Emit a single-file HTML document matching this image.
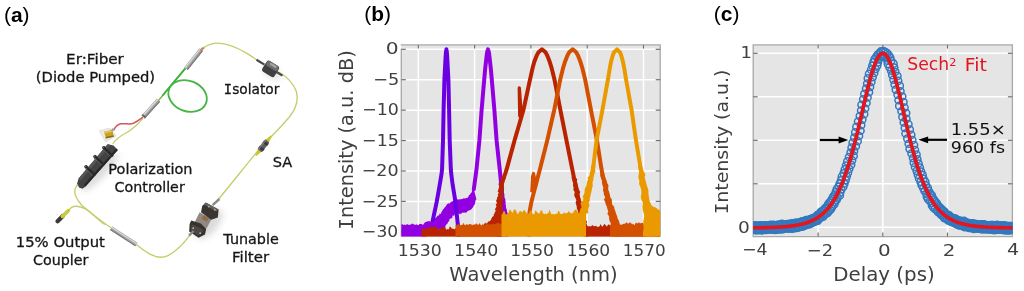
<!DOCTYPE html><html><head><meta charset="utf-8"><style>html,body{margin:0;padding:0;background:#fff;overflow:hidden}svg{display:block}</style></head><body><svg width="1024" height="291" viewBox="0 0 1024 291" font-family="'DejaVu Sans', Verdana, 'Liberation Sans', sans-serif">
<defs><clipPath id="clipb"><rect x="401.3" y="45.0" width="258.90" height="191.60"/></clipPath><filter id="blur3" x="-50%" y="-50%" width="200%" height="200%"><feGaussianBlur stdDeviation="3"/></filter><clipPath id="clipc"><rect x="753.2" y="45.0" width="259.20" height="191.60"/></clipPath></defs>
<rect width="1024" height="291" fill="#fff"/>
<g fill="none" stroke-linecap="round" stroke-linejoin="round">
<g opacity="0.35" filter="url(#blur3)"><ellipse cx="100" cy="172" rx="26" ry="6" transform="rotate(-46 100 172)" fill="#9a9a9a"/><ellipse cx="209" cy="224" rx="18" ry="9" transform="rotate(-50 209 224)" fill="#9a9a9a"/><ellipse cx="272" cy="73" rx="10" ry="5" transform="rotate(27 272 73)" fill="#aaa"/></g>
<path d="M203.6,47.9 C208,44.6 212,43.1 218,43.1 C228,43.3 238,48 246.9,53.4 C252,56.5 257,60 261.5,63.3" stroke="#c6cc6c" stroke-width="1.35"/>
<path d="M279.5,72.5 C287,76.8 293,83 296.2,91 C299,100 295,110 289,117.5 C280,128 270,138 263,144.7 C250,160 232,183 217,201" stroke="#c6cc6c" stroke-width="1.35"/>
<path d="M189.8,235.4 C184,243 177,251 168,255.6 C162,258.3 156,257.5 150,254.2 C145,251.5 140,247.6 136.4,244.6" stroke="#c6cc6c" stroke-width="1.35"/>
<path d="M111,227.6 C103,223 91,213 82,205.5 C76.5,199.5 73.6,193 75.2,188.6 L77.2,185" stroke="#c6cc6c" stroke-width="1.35"/>
<path d="M104.5,224.2 C97,219 90.5,211.5 85.4,208.9 C81,206.6 76,205.2 71.5,207.4 L68.6,210" stroke="#c6cc6c" stroke-width="1.35"/>
<path d="M113,143.5 C116,139 121,135.6 126,133 C131,130.2 135,126.5 138,123.8 C140,121.6 141.5,120 142.6,118.6" stroke="#c6cc6c" stroke-width="1.35"/>
<path d="M142.3,117.7 C140,119.5 137,121.6 132.8,123.6 C129,124.6 125,123.2 120.8,123.8 C118,124.4 115.4,126.8 113.9,129.8" stroke="#d0585a" stroke-width="1.5"/>
<path d="M78,184.5 L76.5,186" stroke="#c6cc6c" stroke-width="1.35"/>
<path d="M158.5,100.5 L186,67.6" stroke="#7cc04a" stroke-width="1.6"/>
<path d="M163,95 L186,67.6" stroke="#3db43f" stroke-width="1.9"/>
<ellipse cx="187.6" cy="96.0" rx="19.8" ry="15.2" transform="rotate(22 187.6 96.0)" stroke="#45b545" stroke-width="1.8"/>
</g>
<rect x="-12.17" y="-2.30" width="24.33" height="4.60" fill="#a3a3a3" transform="translate(193.60 59.10) rotate(-51.34)" />
<g transform="translate(193.60 59.10) rotate(-51.34)"><rect x="-12.17" y="-1.70" width="24.33" height="1.29" fill="#dadada"/><rect x="-12.17" y="1.15" width="24.33" height="1.15" fill="#7a7a7a"/></g>
<line x1="200.6" y1="50.4" x2="203.8" y2="47.6" stroke="#c8845a" stroke-width="2.2"/>
<rect x="-11.33" y="-2.30" width="22.66" height="4.60" fill="#a3a3a3" transform="translate(150.80 108.60) rotate(-47.86)" />
<g transform="translate(150.80 108.60) rotate(-47.86)"><rect x="-11.33" y="-1.70" width="22.66" height="1.29" fill="#dadada"/><rect x="-11.33" y="1.15" width="22.66" height="1.15" fill="#7a7a7a"/></g>
<line x1="143.2" y1="117.0" x2="144.6" y2="115.4" stroke="#6a6a6a" stroke-width="4.4"/>
<rect x="-15.03" y="-2.10" width="30.07" height="4.20" fill="#a3a3a3" transform="translate(123.80 236.40) rotate(33.06)" />
<g transform="translate(123.80 236.40) rotate(33.06)"><rect x="-15.03" y="-1.50" width="30.07" height="1.18" fill="#dadada"/><rect x="-15.03" y="1.05" width="30.07" height="1.05" fill="#7a7a7a"/></g>
<line x1="57.6" y1="221.2" x2="62.6" y2="216.2" stroke="#3a3a3a" stroke-width="4.4" stroke-linecap="round"/>
<line x1="62.4" y1="216.4" x2="68.4" y2="210.6" stroke="#c5cd3c" stroke-width="3.6" stroke-linecap="round"/>
<polygon points="99.3,130.8 109.8,128.0 116.0,136.0 105.6,141.8" fill="#ecebe6" stroke="#cfcfca" stroke-width="0.6"/>
<polygon points="104.2,131.6 112.4,130.0 113.8,136.8 105.8,138.6" fill="#c9a227"/>
<polygon points="104.2,131.6 112.4,130.0 112.8,131.8 104.8,133.4" fill="#e3c45a"/>
<polygon points="105.6,137.0 113.6,135.2 113.8,136.8 105.8,138.6" fill="#8a6c12"/>
<line x1="111.6" y1="131.0" x2="113.6" y2="128.6" stroke="#a0a0a0" stroke-width="2.2"/>
<polygon points="78.6,178.6 107.6,144.2 113.5,145.4 117.8,150.0 85.5,186.6 82.6,188.8 79.0,187.4 77.2,183.2" fill="#424242"/>
<polygon points="78.6,178.6 107.6,144.2 110.5,145.0 80.8,180.4" fill="#555"/>
<polygon points="85.5,186.6 117.8,150.0 116.4,148.6 84.0,184.8" fill="#262626"/>
<line x1="86.00" y1="166.60" x2="94.50" y2="174.60" stroke="#2a2a2a" stroke-width="2.4" stroke-linecap="round"/>
<line x1="84.80" y1="168.20" x2="92.50" y2="175.40" stroke="#5c5c5c" stroke-width="1.0"/>
<circle cx="86.00" cy="166.60" r="1.7" fill="#2c2c2c"/>
<circle cx="85.60" cy="166.20" r="0.7" fill="#777"/>
<line x1="95.00" y1="156.40" x2="103.50" y2="164.40" stroke="#2a2a2a" stroke-width="2.4" stroke-linecap="round"/>
<line x1="93.80" y1="158.00" x2="101.50" y2="165.20" stroke="#5c5c5c" stroke-width="1.0"/>
<circle cx="95.00" cy="156.40" r="1.7" fill="#2c2c2c"/>
<circle cx="94.60" cy="156.00" r="0.7" fill="#777"/>
<line x1="103.80" y1="147.60" x2="112.30" y2="155.60" stroke="#2a2a2a" stroke-width="2.4" stroke-linecap="round"/>
<line x1="102.60" y1="149.20" x2="110.30" y2="156.40" stroke="#5c5c5c" stroke-width="1.0"/>
<circle cx="103.80" cy="147.60" r="1.7" fill="#2c2c2c"/>
<circle cx="103.40" cy="147.20" r="0.7" fill="#777"/>
<line x1="256.5" y1="59.8" x2="264.5" y2="64.6" stroke="#4a4a4a" stroke-width="2.2"/>
<line x1="276.5" y1="72.0" x2="282.5" y2="75.6" stroke="#4a4a4a" stroke-width="2.2"/>
<g transform="translate(270.6 68.9) rotate(32)"><rect x="-7.2" y="-6.4" width="14.4" height="12.8" rx="2.4" fill="#404040"/><rect x="-6.6" y="-6.2" width="13.2" height="5.6" rx="2" fill="#6e6e6e"/><rect x="-3.4" y="-5.6" width="7.5" height="2.4" rx="1" fill="#a5a5a5"/></g>
<g transform="translate(263.5 145.8) rotate(-51.8)"><polygon points="6,-2.1 12.5,-0.7 12.5,0.7 6,2.1" fill="#c9c62a"/><polygon points="-6,-2.1 -12.5,-0.7 -12.5,0.7 -6,2.1" fill="#c9c62a"/><rect x="-6.3" y="-2.7" width="12.6" height="5.4" rx="1" fill="#5c5c5c"/><rect x="-4.6" y="-2.9" width="2.6" height="5.8" fill="#3a3a3a"/><rect x="2.0" y="-2.9" width="2.6" height="5.8" fill="#3a3a3a"/><rect x="-6.3" y="-2.7" width="12.6" height="1.6" fill="#8c8c8c" opacity="0.7"/></g>
<polygon points="199.6,212.2 211.4,219.2 206.4,228.8 194.2,223.2" fill="#8f8983"/>
<polygon points="203.4,215.2 208.6,218.2 206.8,221.8 201.6,218.8" fill="#8d6d45"/>
<polygon points="205.8,202.6 218.6,209.4 217.8,217.4 211.2,219.8 201.0,212.2 202.2,206.0" fill="#3b3531"/>
<polygon points="205.8,202.6 218.6,209.4 216.4,211.2 203.8,204.6" fill="#67615c"/>
<polygon points="191.2,220.4 200.8,223.6 206.2,229.0 205.0,234.6 198.6,237.8 189.2,231.4 189.6,224.0" fill="#38322e"/>
<polygon points="191.8,224.4 199.8,227.4 203.6,231.0 198.4,235.6 190.4,230.6" fill="#4d4743"/>
<circle cx="193.2" cy="228.2" r="0.9" fill="#b8b8b8"/><circle cx="200.2" cy="233.2" r="0.9" fill="#b8b8b8"/>
<circle cx="208.8" cy="206.6" r="0.9" fill="#b0b0b0"/><circle cx="214.8" cy="209.8" r="0.9" fill="#b0b0b0"/>
<line x1="212.6" y1="205.2" x2="219.4" y2="199.0" stroke="#8a8a8a" stroke-width="2.4"/>
<line x1="193.6" y1="231.0" x2="189.0" y2="235.6" stroke="#8a8a8a" stroke-width="2.4"/>
<text id="a_er" x="66.10" y="64.32" font-size="14.40" fill="#161616" textLength="57.78" lengthAdjust="spacingAndGlyphs" stroke="#161616" stroke-width="0.3">Er:Fiber</text>
<text id="a_dp" x="35.77" y="82.15" font-size="14.40" fill="#161616" textLength="119.33" lengthAdjust="spacingAndGlyphs" stroke="#161616" stroke-width="0.3">(Diode Pumped)</text>
<text id="a_iso" x="223.85" y="94.47" font-size="14.40" fill="#161616" textLength="55.54" lengthAdjust="spacingAndGlyphs" stroke="#161616" stroke-width="0.3"><tspan font-family="DejaVu Sans Mono, monospace">I</tspan>solator</text>
<text id="a_pol" x="108.38" y="173.75" font-size="14.40" fill="#161616" textLength="84.16" lengthAdjust="spacingAndGlyphs" stroke="#161616" stroke-width="0.3">Polarization</text>
<text id="a_con" x="114.61" y="191.70" font-size="14.40" fill="#161616" textLength="70.15" lengthAdjust="spacingAndGlyphs" stroke="#161616" stroke-width="0.3">Controller</text>
<text id="a_sa" x="272.83" y="167.25" font-size="14.40" fill="#161616" textLength="19.41" lengthAdjust="spacingAndGlyphs" stroke="#161616" stroke-width="0.3">SA</text>
<text id="a_15" x="15.77" y="246.70" font-size="14.40" fill="#161616" textLength="89.07" lengthAdjust="spacingAndGlyphs" stroke="#161616" stroke-width="0.3">15% Output</text>
<text id="a_cou" x="33.06" y="265.26" font-size="14.40" fill="#161616" textLength="55.42" lengthAdjust="spacingAndGlyphs" stroke="#161616" stroke-width="0.3">Coupler</text>
<text id="a_tun" x="223.34" y="243.87" font-size="14.40" fill="#161616" textLength="55.46" lengthAdjust="spacingAndGlyphs" stroke="#161616" stroke-width="0.3">Tunable</text>
<text id="a_fil" x="231.98" y="261.65" font-size="14.40" fill="#161616" textLength="37.10" lengthAdjust="spacingAndGlyphs" stroke="#161616" stroke-width="0.3">Filter</text>
<rect x="401.3" y="45.0" width="258.90" height="191.60" fill="#e5e5e5"/>
<line x1="418.30" y1="45.0" x2="418.30" y2="236.6" stroke="#fff" stroke-width="1.5"/>
<line x1="474.60" y1="45.0" x2="474.60" y2="236.6" stroke="#fff" stroke-width="1.5"/>
<line x1="530.90" y1="45.0" x2="530.90" y2="236.6" stroke="#fff" stroke-width="1.5"/>
<line x1="587.20" y1="45.0" x2="587.20" y2="236.6" stroke="#fff" stroke-width="1.5"/>
<line x1="643.50" y1="45.0" x2="643.50" y2="236.6" stroke="#fff" stroke-width="1.5"/>
<line x1="401.3" y1="49.30" x2="660.2" y2="49.30" stroke="#fff" stroke-width="1.5"/>
<line x1="401.3" y1="79.72" x2="660.2" y2="79.72" stroke="#fff" stroke-width="1.5"/>
<line x1="401.3" y1="110.14" x2="660.2" y2="110.14" stroke="#fff" stroke-width="1.5"/>
<line x1="401.3" y1="140.56" x2="660.2" y2="140.56" stroke="#fff" stroke-width="1.5"/>
<line x1="401.3" y1="170.98" x2="660.2" y2="170.98" stroke="#fff" stroke-width="1.5"/>
<line x1="401.3" y1="201.40" x2="660.2" y2="201.40" stroke="#fff" stroke-width="1.5"/>
<line x1="401.3" y1="231.82" x2="660.2" y2="231.82" stroke="#fff" stroke-width="1.5"/>
<line x1="400.7" y1="44.9" x2="660.8000000000001" y2="44.9" stroke="#a8a8a8" stroke-width="1.3"/>
<line x1="660.2" y1="44.9" x2="660.2" y2="236.6" stroke="#a8a8a8" stroke-width="1.3"/>
<line x1="401.3" y1="48.70" x2="401.3" y2="236.6" stroke="#a8a8a8" stroke-width="1.3"/>
<line x1="401.3" y1="236.6" x2="660.2" y2="236.6" stroke="#a8a8a8" stroke-width="1.0" opacity="0.6"/>
<line x1="401.3" y1="49.30" x2="405.8" y2="49.30" stroke="#707070" stroke-width="1.2"/>
<line x1="655.7" y1="49.30" x2="660.2" y2="49.30" stroke="#707070" stroke-width="1.2"/>
<line x1="401.3" y1="79.72" x2="405.8" y2="79.72" stroke="#707070" stroke-width="1.2"/>
<line x1="655.7" y1="79.72" x2="660.2" y2="79.72" stroke="#707070" stroke-width="1.2"/>
<line x1="401.3" y1="110.14" x2="405.8" y2="110.14" stroke="#707070" stroke-width="1.2"/>
<line x1="655.7" y1="110.14" x2="660.2" y2="110.14" stroke="#707070" stroke-width="1.2"/>
<line x1="401.3" y1="140.56" x2="405.8" y2="140.56" stroke="#707070" stroke-width="1.2"/>
<line x1="655.7" y1="140.56" x2="660.2" y2="140.56" stroke="#707070" stroke-width="1.2"/>
<line x1="401.3" y1="170.98" x2="405.8" y2="170.98" stroke="#707070" stroke-width="1.2"/>
<line x1="655.7" y1="170.98" x2="660.2" y2="170.98" stroke="#707070" stroke-width="1.2"/>
<line x1="401.3" y1="201.40" x2="405.8" y2="201.40" stroke="#707070" stroke-width="1.2"/>
<line x1="655.7" y1="201.40" x2="660.2" y2="201.40" stroke="#707070" stroke-width="1.2"/>
<line x1="401.3" y1="231.82" x2="405.8" y2="231.82" stroke="#707070" stroke-width="1.2"/>
<line x1="655.7" y1="231.82" x2="660.2" y2="231.82" stroke="#707070" stroke-width="1.2"/>
<line x1="418.30" y1="44.9" x2="418.30" y2="48.6" stroke="#707070" stroke-width="1.2"/>
<line x1="474.60" y1="44.9" x2="474.60" y2="48.6" stroke="#707070" stroke-width="1.2"/>
<line x1="530.90" y1="44.9" x2="530.90" y2="48.6" stroke="#707070" stroke-width="1.2"/>
<line x1="587.20" y1="44.9" x2="587.20" y2="48.6" stroke="#707070" stroke-width="1.2"/>
<line x1="643.50" y1="44.9" x2="643.50" y2="48.6" stroke="#707070" stroke-width="1.2"/>
<g clip-path="url(#clipb)">
<polygon points="401.00,239.60 401.00,224.65 401.70,224.11 402.40,224.27 403.10,224.64 403.80,224.91 404.50,224.38 405.20,224.68 405.90,225.20 406.60,224.19 407.30,224.05 408.00,224.65 408.70,224.81 409.40,224.94 410.10,224.39 410.80,224.39 411.50,224.22 412.20,223.17 412.90,224.16 413.60,224.08 414.30,224.74 415.00,224.47 415.70,225.00 416.40,224.15 417.10,224.85 417.80,225.07 418.50,225.21 419.20,224.00 419.90,224.37 420.60,223.84 421.30,223.99 422.00,224.00 422.70,225.14 425.00,222.30 425.64,222.03 427.17,221.50 428.20,221.27 429.00,221.00 430.25,221.70 430.90,220.26 432.01,219.75 433.20,219.20 434.22,217.84 435.89,218.12 437.67,215.44 438.70,215.60 439.16,215.22 439.50,213.43 440.77,213.91 441.50,212.00 442.38,210.71 442.74,209.75 443.98,208.58 444.20,207.90 445.16,207.01 446.26,205.39 447.02,204.37 448.40,203.20 449.29,203.63 450.65,202.18 451.68,201.43 452.50,201.20 454.19,200.85 455.43,199.47 456.73,198.80 458.00,199.80 459.14,199.26 461.23,199.33 463.92,198.23 465.00,198.60 465.61,198.36 466.75,197.66 467.34,197.96 468.20,197.00 469.18,195.05 469.83,194.78 470.36,193.83 471.50,192.50 471.72,192.03 472.51,190.07 472.75,188.66 473.40,187.50 476.50,199.50 475.40,199.97 475.61,200.55 475.25,202.23 474.50,205.00 473.85,205.45 472.98,207.35 471.41,209.37 471.00,209.50 469.93,210.20 467.92,210.87 466.21,212.63 465.00,212.50 463.59,212.71 462.26,212.50 460.87,214.26 460.00,213.50 459.10,214.27 458.30,212.94 457.35,213.05 456.60,213.50 455.83,213.70 454.96,213.40 454.03,216.32 453.50,215.50 452.55,215.53 452.10,218.38 450.81,217.96 450.50,219.00 449.56,218.72 449.22,221.23 448.27,221.77 447.50,223.50 446.89,224.19 445.96,224.86 444.89,227.94 444.50,228.00 442.90,228.61 441.59,228.40 440.00,229.63 438.70,229.50 436.13,229.38 433.76,230.44 431.48,229.81 428.80,229.50 426.00,236.60 426.00,239.60" fill="#9200e2" />
<polyline points="473.79,189.33 474.35,185.19 474.91,181.10 475.47,177.07 476.01,173.11 476.48,169.21 476.87,165.38 477.26,161.60 477.63,157.89 478.01,154.24 478.37,150.65 478.73,147.13 479.08,143.66 479.42,140.26 479.66,136.93 479.90,133.65 480.13,130.44 480.36,127.29 480.58,124.20 480.80,121.17 481.02,118.21 481.23,115.31 481.43,112.47 481.64,109.69 481.87,106.98 482.10,104.33 482.32,101.74 482.53,99.21 482.74,96.75 482.95,94.35 483.15,92.01 483.34,89.73 483.53,87.51 483.72,85.36 483.90,83.27 484.07,81.24 484.24,79.28 484.41,77.38 484.58,75.53 484.74,73.76 484.89,72.04 485.04,70.39 485.19,68.80 485.33,67.27 485.50,65.80 485.66,64.40 485.82,63.06 485.96,61.78 486.10,60.56 486.24,59.41 486.36,58.32 486.48,57.29 486.59,56.32 486.70,55.41 486.81,54.57 486.91,53.79 487.00,53.07 487.09,52.42 487.25,51.83 487.41,51.30 487.55,50.83 487.67,50.42 487.77,50.08 487.85,49.80 487.92,49.58 487.96,49.42 487.99,49.33 488.00,49.30 488.01,49.33 488.04,49.42 488.08,49.58 488.15,49.80 488.23,50.08 488.33,50.42 488.45,50.83 488.59,51.30 488.75,51.83 488.91,52.42 489.00,53.07 489.09,53.79 489.19,54.57 489.30,55.41 489.41,56.32 489.52,57.29 489.64,58.32 489.76,59.41 489.90,60.56 490.04,61.78 490.18,63.06 490.34,64.40 490.50,65.80 490.67,67.27 490.81,68.80 490.96,70.39 491.11,72.04 491.26,73.76 491.42,75.53 491.59,77.38 491.76,79.28 491.93,81.24 492.10,83.27 492.28,85.36 492.47,87.51 492.66,89.73 492.85,92.01 493.05,94.35 493.26,96.75 493.47,99.21 493.68,101.74 493.90,104.33 494.13,106.98 494.36,109.69 494.57,112.47 494.77,115.31 494.98,118.21 495.20,121.17 495.42,124.20 495.64,127.29 495.87,130.44 496.10,133.65 496.34,136.93 496.58,140.26 496.94,143.66 497.31,147.13 497.69,150.65 498.08,154.24 498.48,157.89 498.88,161.60 499.29,165.38 499.71,169.21 500.10,173.11 500.48,177.07 500.86,181.10 501.25,185.19 501.65,189.33 502.05,193.55 502.46,197.82 502.91,202.16 503.56,206.55 504.22,211.01 504.89,215.54 505.53,220.12 505.82,224.77 506.11,229.48 506.40,234.26 506.70,239.09 507.00,243.99" fill="none" stroke="#9200e2" stroke-width="4.0" stroke-linejoin="round" stroke-linecap="round" />
<polygon points="498.78,183.15 498.47,184.74 499.73,186.32 499.84,187.91 499.39,189.50 499.83,191.08 500.05,192.67 500.17,194.26 500.31,195.85 499.72,197.43 500.81,199.02 499.53,200.61 500.72,202.19 500.72,203.78 501.09,205.37 501.78,206.95 501.76,208.54 500.63,210.13 500.54,211.72 501.98,213.30 501.24,214.89 501.93,216.48 502.54,218.06 501.48,219.65 509.14,219.65 507.72,218.06 509.14,216.48 508.01,214.89 507.73,213.30 506.87,211.72 507.08,210.13 506.25,208.54 505.90,206.95 505.79,205.37 505.34,203.78 505.75,202.19 505.27,200.61 505.35,199.02 504.07,197.43 504.20,195.85 504.40,194.26 503.52,192.67 503.65,191.08 503.89,189.50 503.55,187.91 503.49,186.32 503.39,184.74 502.01,183.15" fill="#9200e2" />
<polyline points="432.83,220.12 433.78,215.54 434.75,211.01 435.70,206.55 436.64,202.16 437.43,197.82 438.18,193.55 438.92,189.33 439.64,185.19 440.34,181.10 441.00,177.07 441.65,173.11 442.06,169.21 442.18,165.38 442.31,161.60 442.43,157.89 442.55,154.24 442.67,150.65 442.78,147.13 442.90,143.66 443.01,140.26 443.07,136.93 443.14,133.65 443.20,130.44 443.26,127.29 443.32,124.20 443.38,121.17 443.44,118.21 443.50,115.31 443.55,112.47 443.61,109.69 443.68,106.98 443.75,104.33 443.82,101.74 443.89,99.21 443.95,96.75 444.02,94.35 444.08,92.01 444.14,89.73 444.20,87.51 444.25,85.36 444.31,83.27 444.36,81.24 444.42,79.28 444.52,77.38 444.62,75.53 444.71,73.76 444.80,72.04 444.89,70.39 444.97,68.80 445.05,67.27 445.12,65.80 445.20,64.40 445.27,63.06 445.33,61.78 445.40,60.56 445.47,59.41 445.53,58.32 445.59,57.29 445.65,56.32 445.70,55.41 445.77,54.57 445.83,53.79 445.89,53.07 445.94,52.42 446.03,51.83 446.10,51.30 446.17,50.83 446.23,50.42 446.28,50.08 446.33,49.80 446.36,49.58 446.38,49.42 446.40,49.33 446.40,49.30 446.40,49.33 446.42,49.42 446.44,49.58 446.47,49.80 446.52,50.08 446.57,50.42 446.63,50.83 446.70,51.30 446.77,51.83 446.86,52.42 446.91,53.07 446.97,53.79 447.03,54.57 447.10,55.41 447.15,56.32 447.21,57.29 447.27,58.32 447.33,59.41 447.40,60.56 447.47,61.78 447.53,63.06 447.60,64.40 447.68,65.80 447.75,67.27 447.83,68.80 447.91,70.39 448.00,72.04 448.09,73.76 448.18,75.53 448.28,77.38 448.38,79.28 448.44,81.24 448.48,83.27 448.53,85.36 448.58,87.51 448.63,89.73 448.68,92.01 448.74,94.35 448.79,96.75 448.85,99.21 448.91,101.74 448.97,104.33 449.03,106.98 449.09,109.69 449.15,112.47 449.20,115.31 449.26,118.21 449.32,121.17 449.38,124.20 449.44,127.29 449.50,130.44 449.56,133.65 449.63,136.93 449.69,140.26 449.82,143.66 449.96,147.13 450.10,150.65 450.24,154.24 450.38,157.89 450.53,161.60 450.68,165.38 450.83,169.21 451.16,173.11 451.65,177.07 452.15,181.10 452.73,185.19 453.42,189.33 454.11,193.55 454.81,197.82 455.48,202.16 455.94,206.55 456.41,211.01 456.88,215.54 457.36,220.12 457.85,224.77 458.35,229.48 458.70,234.26 459.05,239.09 459.40,243.99" fill="none" stroke="#6a00e2" stroke-width="4.0" stroke-linejoin="round" stroke-linecap="round" />
<polygon points="421.60,239.60 421.60,228.96 422.30,228.99 423.00,228.28 423.70,228.77 424.40,229.35 425.10,228.72 425.80,227.99 426.50,227.07 427.20,228.41 427.90,228.69 428.60,227.81 429.30,228.41 430.00,227.30 430.70,225.85 431.40,226.42 432.10,227.16 432.80,227.08 433.50,227.19 434.20,227.04 434.90,226.48 435.60,225.62 436.30,227.36 437.00,228.64 437.70,228.99 438.40,229.40 439.10,229.23 439.80,228.87 440.50,227.72 441.20,227.80 441.90,226.99 442.60,228.22 443.30,226.96 444.00,226.81 444.70,226.91 445.40,227.29 446.10,229.60 446.80,229.70 447.50,228.77 448.20,229.38 448.90,229.09 449.60,226.77 450.30,226.67 451.00,227.20 451.70,228.69 452.40,228.44 453.10,228.86 453.80,228.88 454.50,229.46 455.20,228.73 455.90,227.89 456.60,227.63 457.30,225.57 458.00,225.26 458.70,225.06 459.40,227.78 460.10,228.22 460.80,227.86 461.50,226.87 462.20,227.06 462.90,228.18 463.60,228.01 464.30,227.45 465.00,227.31 465.70,228.25 466.40,227.87 467.10,227.29 467.80,226.78 468.50,226.94 469.20,228.61 469.90,228.59 470.60,228.53 471.30,228.00 472.00,226.96 472.70,227.04 473.40,227.72 474.10,227.74 474.80,228.27 475.50,227.82 476.20,226.74 476.90,225.58 477.60,227.48 478.30,228.22 479.00,229.40 479.70,228.61 480.40,229.29 480.60,226.00 481.44,225.75 482.27,225.55 483.71,225.23 484.00,224.50 484.77,223.11 485.62,222.58 485.83,223.89 487.00,223.00 488.01,222.31 488.09,221.58 489.20,221.58 490.20,220.60 491.33,220.03 490.87,218.50 491.53,218.39 492.00,217.80 492.10,217.07 492.55,216.87 493.67,216.05 493.80,214.60 494.11,214.16 494.66,212.87 495.05,211.57 495.60,211.60 495.64,211.33 496.49,210.23 497.33,208.31 497.50,208.60 497.86,207.81 498.82,206.57 499.61,206.03 499.90,205.00 502.50,203.00 503.50,239.60" fill="#b92300" />
<polyline points="498.80,243.99 498.80,239.09 498.80,234.26 498.80,229.48 498.80,224.77 498.80,220.12 498.80,215.54 498.80,211.01 499.24,206.55 499.72,202.16 500.19,197.82 500.66,193.55 501.12,189.33 501.58,185.19 502.54,181.10 504.00,177.07 505.43,173.11 506.68,169.21 507.73,165.38 508.76,161.60 509.77,157.89 510.77,154.24 511.75,150.65 512.71,147.13 513.65,143.66 514.59,140.26 515.56,136.93 516.52,133.65 517.46,130.44 518.38,127.29 519.29,124.20 520.17,121.17 521.04,118.21 521.89,115.31 522.72,112.47 523.50,109.69 524.09,106.98 524.66,104.33 525.22,101.74 525.77,99.21 526.31,96.75 526.83,94.35 527.33,92.01 527.83,89.73 528.31,87.51 528.78,85.36 529.23,83.27 529.67,81.24 530.10,79.28 530.52,77.38 530.93,75.53 531.32,73.76 531.70,72.04 532.07,70.39 532.42,68.80 532.78,67.27 533.19,65.80 533.58,64.40 533.96,63.06 534.31,61.78 534.76,60.56 535.21,59.41 535.64,58.32 536.05,57.29 536.43,56.32 536.79,55.41 537.23,54.57 537.64,53.79 538.01,53.07 538.36,52.42 539.01,51.83 539.64,51.30 540.19,50.83 540.67,50.42 541.08,50.08 541.41,49.80 541.67,49.58 541.85,49.42 541.96,49.33 542.00,49.30 542.04,49.33 542.15,49.42 542.33,49.58 542.59,49.80 542.92,50.08 543.33,50.42 543.81,50.83 544.36,51.30 544.99,51.83 545.64,52.42 545.99,53.07 546.36,53.79 546.77,54.57 547.21,55.41 547.57,56.32 547.95,57.29 548.36,58.32 548.79,59.41 549.24,60.56 549.70,61.78 550.10,63.06 550.52,64.40 550.95,65.80 551.41,67.27 551.81,68.80 552.20,70.39 552.61,72.04 553.03,73.76 553.47,75.53 553.92,77.38 554.39,79.28 554.80,81.24 555.19,83.27 555.59,85.36 556.01,87.51 556.44,89.73 556.88,92.01 557.34,94.35 557.80,96.75 558.28,99.21 558.77,101.74 559.27,104.33 559.79,106.98 560.31,109.69 560.87,112.47 561.44,115.31 562.02,118.21 562.61,121.17 563.22,124.20 563.84,127.29 564.47,130.44 565.11,133.65 565.77,136.93 566.44,140.26 567.12,143.66 567.82,147.13 568.52,150.65 569.24,154.24 569.98,157.89 570.72,161.60 571.48,165.38 572.25,169.21 573.04,173.11 573.86,177.07 574.70,181.10 575.54,185.19 576.40,189.33 577.27,193.55 578.16,197.82 579.06,202.16 579.98,206.55 580.91,211.01 581.86,215.54 582.82,220.12 583.80,224.77 584.82,229.48 585.87,234.26 586.93,239.09 588.00,243.99" fill="none" stroke="#b92300" stroke-width="4.0" stroke-linejoin="round" stroke-linecap="round" />
<polygon points="501.19,177.06 500.76,178.52 501.05,179.97 500.30,181.43 498.54,182.88 499.88,184.34 499.30,185.79 499.46,187.25 498.38,188.70 498.21,190.16 497.59,191.61 499.21,193.07 497.64,194.52 498.31,195.98 496.98,197.43 497.17,198.89 496.05,200.34 496.48,201.80 496.95,203.25 495.62,204.71 496.57,206.16 495.99,207.62 495.09,209.07 495.15,210.53 502.18,210.53 502.61,209.07 502.34,207.62 502.82,206.16 502.25,204.71 502.62,203.25 503.04,201.80 502.56,200.34 503.81,198.89 502.91,197.43 503.70,195.98 502.89,194.52 503.16,193.07 503.60,191.61 502.94,190.16 504.25,188.70 503.89,187.25 503.38,185.79 503.62,184.34 504.15,182.88 504.36,181.43 504.98,179.97 505.70,178.52 505.97,177.06" fill="#b92300" />
<polygon points="571.32,177.06 572.18,179.18 572.63,181.30 573.46,183.41 572.90,185.53 573.71,187.64 573.24,189.76 574.80,191.88 574.30,193.99 574.31,196.11 575.56,198.23 576.52,200.34 575.58,202.46 576.17,204.57 576.72,206.69 576.91,208.81 578.04,210.92 577.83,213.04 578.25,215.16 579.28,217.27 578.99,219.39 579.96,221.50 579.64,223.62 579.89,225.74 587.36,225.74 586.45,223.62 587.00,221.50 585.44,219.39 585.73,217.27 583.55,215.16 585.14,213.04 583.76,210.92 582.74,208.81 582.44,206.69 582.82,204.57 582.28,202.46 580.73,200.34 580.39,198.23 579.61,196.11 579.37,193.99 580.34,191.88 578.91,189.76 578.46,187.64 577.86,185.53 577.49,183.41 576.71,181.30 577.29,179.18 574.94,177.06" fill="#b92300" />
<polyline points="521.20,114.50 519.30,88.00 519.80,116.00" fill="none" stroke="#b92300" stroke-width="3.4" stroke-linejoin="round" stroke-linecap="round" />
<polygon points="585.00,239.60 585.00,225.55 585.70,224.42 586.40,224.81 587.10,225.59 587.80,226.27 588.50,226.48 589.20,225.99 589.90,226.59 590.60,226.44 591.30,225.95 592.00,225.57 592.70,225.06 593.40,225.95 594.10,226.27 594.80,226.23 595.50,225.75 596.20,225.98 596.90,226.51 597.60,226.96 598.30,226.69 599.00,226.55 599.70,226.15 600.40,224.02 601.10,225.08 601.80,226.25 602.50,226.66 603.20,225.74 603.90,224.50 604.60,223.95 605.30,224.84 606.00,225.61 606.70,226.45 607.40,225.90 608.10,224.30 608.80,224.74 609.50,224.80 610.20,226.10 610.90,226.72 611.60,225.93 612.30,226.98 613.00,226.85 613.70,226.30 614.40,225.59 615.10,225.15 615.80,224.86 616.50,225.69 617.20,226.13 617.90,226.83 618.60,226.30 619.30,226.79 620.00,225.92 620.70,224.66 621.40,224.38 622.10,225.91 622.80,225.75 623.50,227.16 624.20,227.11 624.90,227.06 625.60,226.73 626.30,225.23 627.00,224.35 627.70,224.64 628.40,224.82 629.10,224.46 629.80,223.27 630.50,224.72 631.20,225.98 631.90,226.41 632.60,225.38 633.30,223.68 634.00,225.57 634.70,226.25 635.40,225.59 636.10,226.97 636.80,225.39 637.50,224.33 638.20,223.94 638.90,225.48 639.60,225.84 640.30,226.86 641.00,227.53 641.70,226.48 642.40,225.30 643.10,226.27 643.80,226.27 644.50,226.31 645.20,226.00 645.90,225.53 646.60,226.13 647.30,226.87 648.00,225.11 648.70,224.95 649.40,226.23 650.10,227.02 650.80,227.51 651.50,227.20 652.20,226.83 652.90,227.01 653.60,225.56 654.30,223.81 655.00,224.53 655.70,225.49 656.40,226.78 657.10,226.11 657.80,226.82 658.50,226.70 659.20,226.57 659.90,225.87 660.00,239.60" fill="#b92300" />
<polygon points="455.50,239.60 455.50,225.02 456.20,224.77 456.90,225.28 457.60,224.25 458.30,224.01 459.00,224.59 459.70,225.15 460.40,225.32 461.10,224.68 461.80,224.92 462.50,225.02 463.20,223.05 463.90,223.38 464.60,224.90 465.30,225.22 466.00,224.59 466.70,224.18 467.40,224.27 468.10,225.23 468.80,224.23 469.50,224.07 470.20,224.01 470.90,224.50 471.60,224.48 472.30,225.16 473.00,224.54 473.70,224.81 474.40,224.36 475.10,224.84 475.80,223.48 476.50,223.46 477.20,224.47 477.90,224.71 478.60,224.54 479.30,222.97 480.00,223.97 480.70,224.65 481.40,225.87 482.10,224.64 482.80,223.89 483.50,224.58 484.20,225.69 484.90,224.75 485.60,224.46 486.30,224.49 487.00,223.49 487.70,223.83 488.40,223.62 489.10,224.74 489.80,224.52 490.50,224.16 491.20,224.50 491.90,223.14 492.60,224.16 493.30,223.49 494.00,223.90 494.70,224.39 495.40,224.12 496.10,223.28 496.80,223.79 497.50,222.72 498.20,222.80 498.90,223.04 499.60,223.79 500.30,223.22 501.00,224.71 501.70,223.42 502.40,223.85 503.10,225.21 503.50,239.60" fill="#d35000" />
<polyline points="529.20,243.99 529.20,239.09 529.20,234.26 529.20,229.48 529.20,224.77 529.20,220.12 529.20,215.54 529.68,211.01 530.53,206.55 531.36,202.16 532.44,197.82 533.57,193.55 534.67,189.33 535.76,185.19 536.84,181.10 537.90,177.07 538.94,173.11 539.95,169.21 540.92,165.38 541.87,161.60 542.81,157.89 543.74,154.24 544.65,150.65 545.54,147.13 546.41,143.66 547.27,140.26 548.04,136.93 548.79,133.65 549.53,130.44 550.25,127.29 550.96,124.20 551.66,121.17 552.34,118.21 553.01,115.31 553.66,112.47 554.29,109.69 554.82,106.98 555.35,104.33 555.86,101.74 556.36,99.21 556.84,96.75 557.32,94.35 557.78,92.01 558.23,89.73 558.66,87.51 559.09,85.36 559.50,83.27 559.90,81.24 560.31,79.28 560.78,77.38 561.23,75.53 561.67,73.76 562.09,72.04 562.50,70.39 562.89,68.80 563.29,67.27 563.75,65.80 564.18,64.40 564.60,63.06 565.00,61.78 565.46,60.56 565.91,59.41 566.34,58.32 566.75,57.29 567.13,56.32 567.49,55.41 567.93,54.57 568.34,53.79 568.71,53.07 569.06,52.42 569.71,51.83 570.34,51.30 570.89,50.83 571.37,50.42 571.78,50.08 572.11,49.80 572.37,49.58 572.55,49.42 572.66,49.33 572.70,49.30 572.74,49.33 572.85,49.42 573.03,49.58 573.29,49.80 573.62,50.08 574.03,50.42 574.51,50.83 575.06,51.30 575.69,51.83 576.34,52.42 576.69,53.07 577.06,53.79 577.47,54.57 577.91,55.41 578.27,56.32 578.65,57.29 579.06,58.32 579.49,59.41 579.94,60.56 580.40,61.78 580.80,63.06 581.22,64.40 581.65,65.80 582.11,67.27 582.51,68.80 582.90,70.39 583.31,72.04 583.73,73.76 584.17,75.53 584.62,77.38 585.09,79.28 585.49,81.24 585.88,83.27 586.28,85.36 586.69,87.51 587.11,89.73 587.54,92.01 587.99,94.35 588.45,96.75 588.92,99.21 589.40,101.74 589.89,104.33 590.40,106.98 590.91,109.69 591.46,112.47 592.02,115.31 592.59,118.21 593.18,121.17 593.77,124.20 594.38,127.29 595.00,130.44 595.64,133.65 596.28,136.93 596.94,140.26 597.49,143.66 598.04,147.13 598.59,150.65 599.16,154.24 599.73,157.89 600.32,161.60 600.92,165.38 601.52,169.21 602.28,173.11 603.18,177.07 604.10,181.10 605.02,185.19 605.96,189.33 606.92,193.55 607.89,197.82 608.91,202.16 610.11,206.55 611.33,211.01 612.57,215.54 613.86,220.12 615.38,224.77 616.70,229.48 616.70,234.26 616.70,239.09 616.70,243.99" fill="none" stroke="#d35000" stroke-width="4.0" stroke-linejoin="round" stroke-linecap="round" />
<polygon points="600.07,170.98 600.59,173.36 600.11,175.74 600.99,178.12 601.98,180.50 602.09,182.88 602.45,185.26 603.60,187.64 602.91,190.03 603.72,192.41 603.85,194.79 605.29,197.17 604.00,199.55 605.10,201.93 605.71,204.31 606.85,206.69 607.37,209.07 608.30,211.45 607.36,213.83 609.07,216.21 609.09,218.59 609.52,220.97 610.80,223.36 610.74,225.74 620.40,225.74 619.52,223.36 619.04,220.97 617.60,218.59 617.14,216.21 616.12,213.83 615.48,211.45 614.48,209.07 614.13,206.69 612.03,204.31 611.94,201.93 611.80,199.55 610.33,197.17 609.83,194.79 609.26,192.41 608.22,190.03 608.24,187.64 608.49,185.26 607.20,182.88 606.58,180.50 605.42,178.12 604.35,175.74 604.26,173.36 602.76,170.98" fill="#d35000" />
<polygon points="530.20,192.00 531.00,176.00 532.60,171.50 534.80,172.50 536.60,180.00 537.40,186.00 533.50,193.00" fill="#d35000" />
<polygon points="610.00,239.60 610.00,224.00 611.00,225.40 611.70,224.45 612.40,224.83 613.10,223.62 613.80,222.95 614.50,223.17 615.20,225.30 615.90,224.14 616.60,222.81 617.30,222.13 618.00,222.93 618.70,223.58 619.40,223.94 620.10,224.85 620.80,224.74 621.50,225.36 622.20,224.45 622.90,224.06 623.60,223.63 624.30,224.17 625.00,223.02 625.70,223.49 626.40,222.04 627.10,223.06 627.80,223.39 628.50,223.54 629.20,223.04 629.90,222.27 630.60,222.68 631.30,223.71 632.00,223.59 632.70,224.29 633.40,224.95 634.10,225.24 634.80,224.83 635.50,223.07 636.20,222.58 636.90,223.29 637.60,223.41 638.30,222.67 639.00,222.02 639.70,223.13 640.40,223.20 641.10,223.17 641.80,222.72 642.50,223.11 643.20,222.95 643.90,224.67 644.60,224.67 645.30,225.53 646.00,223.96 646.70,223.01 647.40,225.37 648.10,225.44 648.80,224.82 649.50,224.77 650.20,224.48 650.90,224.41 651.60,223.41 652.30,223.12 653.00,224.32 653.70,224.65 654.40,224.36 655.10,224.21 655.80,222.91 656.50,222.84 657.20,222.29 657.90,224.10 658.60,225.50 659.30,225.31 660.00,225.25 660.00,239.60" fill="#d35000" />
<polygon points="501.50,239.60 501.50,214.00 501.50,214.16 502.20,214.28 502.90,212.73 503.60,210.98 504.30,210.91 505.00,211.96 505.70,214.47 506.40,214.39 507.10,213.95 507.80,213.51 508.50,213.12 509.20,210.76 509.90,209.43 510.60,209.79 511.30,211.80 512.00,211.45 512.70,213.16 513.40,210.96 514.10,209.07 514.80,209.78 515.50,209.85 516.20,210.85 516.90,212.76 517.60,214.00 518.30,213.81 519.00,211.89 519.70,211.37 520.40,211.18 521.10,210.90 521.80,212.30 522.50,212.20 523.20,211.07 523.90,210.03 524.60,210.20 525.30,211.17 526.00,212.18 526.70,213.20 527.40,214.50 528.10,213.87 528.80,213.48 529.50,211.90 530.20,209.90 530.90,211.20 531.60,211.21 532.30,213.70 533.00,213.51 533.70,214.62 534.40,213.91 535.10,210.84 535.80,210.72 536.50,211.59 537.20,212.25 537.90,213.09 538.60,213.25 539.30,213.52 540.00,212.47 540.70,210.31 541.40,210.68 542.10,210.28 542.80,213.59 543.50,213.23 544.20,214.56 544.90,213.86 545.60,213.47 546.30,214.22 547.00,213.45 547.70,213.44 548.40,212.71 549.10,211.37 549.80,209.47 550.50,212.41 551.20,213.67 551.90,214.62 552.60,214.01 553.30,213.94 554.00,214.34 554.70,214.64 555.40,213.80 556.10,213.85 556.80,213.87 557.50,213.48 558.20,210.77 558.90,210.95 559.60,212.31 560.30,214.11 561.00,213.50 561.70,214.18 562.40,214.06 563.10,213.11 563.80,213.75 564.50,212.12 565.20,213.15 565.90,213.47 566.60,213.12 567.30,213.11 568.00,212.36 568.70,210.96 569.40,211.61 570.10,212.90 570.80,212.73 571.50,213.78 572.20,212.40 572.90,213.43 573.60,211.76 574.30,210.41 575.00,209.62 575.70,209.78 576.40,209.67 577.10,210.84 577.80,212.38 578.50,212.41 579.20,212.93 579.90,212.43 580.60,209.86 581.30,213.30 582.00,213.10 582.70,214.18 583.40,213.79 584.10,213.62 584.80,212.13 585.50,210.28 586.00,239.60" fill="#ea9a00" />
<polyline points="584.00,243.99 584.00,239.09 584.00,234.26 584.00,229.48 584.00,224.77 584.00,220.12 584.00,215.54 584.00,211.01 584.65,206.55 585.38,202.16 586.36,197.82 587.38,193.55 588.40,189.33 589.39,185.19 590.37,181.10 591.34,177.07 592.29,173.11 593.01,169.21 593.48,165.38 593.94,161.60 594.39,157.89 594.84,154.24 595.27,150.65 595.70,147.13 596.12,143.66 596.56,140.26 597.20,136.93 597.84,133.65 598.46,130.44 599.07,127.29 599.67,124.20 600.26,121.17 600.83,118.21 601.40,115.31 601.95,112.47 602.48,109.69 602.97,106.98 603.45,104.33 603.92,101.74 604.38,99.21 604.82,96.75 605.26,94.35 605.68,92.01 606.09,89.73 606.49,87.51 606.88,85.36 607.26,83.27 607.62,81.24 607.97,79.28 608.29,77.38 608.59,75.53 608.88,73.76 609.16,72.04 609.43,70.39 609.70,68.80 609.96,67.27 610.25,65.80 610.52,64.40 610.79,63.06 611.04,61.78 611.35,60.56 611.68,59.41 611.98,58.32 612.27,57.29 612.54,56.32 612.79,55.41 613.12,54.57 613.43,53.79 613.71,53.07 613.97,52.42 614.51,51.83 615.03,51.30 615.49,50.83 615.89,50.42 616.23,50.08 616.51,49.80 616.72,49.58 616.88,49.42 616.97,49.33 617.00,49.30 617.03,49.33 617.12,49.42 617.28,49.58 617.49,49.80 617.77,50.08 618.11,50.42 618.51,50.83 618.97,51.30 619.49,51.83 620.03,52.42 620.29,53.07 620.57,53.79 620.88,54.57 621.21,55.41 621.46,56.32 621.73,57.29 622.02,58.32 622.32,59.41 622.65,60.56 622.96,61.78 623.21,63.06 623.48,64.40 623.75,65.80 624.04,67.27 624.30,68.80 624.57,70.39 624.84,72.04 625.12,73.76 625.41,75.53 625.71,77.38 626.03,79.28 626.38,81.24 626.74,83.27 627.12,85.36 627.51,87.51 627.91,89.73 628.32,92.01 628.74,94.35 629.18,96.75 629.62,99.21 630.08,101.74 630.55,104.33 631.03,106.98 631.52,109.69 631.94,112.47 632.35,115.31 632.77,118.21 633.20,121.17 633.63,124.20 634.08,127.29 634.54,130.44 635.00,133.65 635.47,136.93 635.96,140.26 636.52,143.66 637.10,147.13 637.69,150.65 638.29,154.24 638.91,157.89 639.53,161.60 640.16,165.38 640.80,169.21 641.46,173.11 642.12,177.07 642.80,181.10 643.48,185.19 644.18,189.33 644.88,193.55 645.60,197.82 646.31,202.16 646.96,206.55 647.62,211.01 648.16,215.54 648.54,220.12 648.92,224.77 649.31,229.48 649.70,234.26 650.00,239.09 650.00,243.99" fill="none" stroke="#ea9a00" stroke-width="4.0" stroke-linejoin="round" stroke-linecap="round" />
<polygon points="591.41,164.90 591.06,167.01 590.89,169.13 590.55,171.24 589.69,173.36 589.75,175.48 587.49,177.59 587.94,179.71 586.97,181.83 586.78,183.94 586.21,186.06 585.02,188.17 584.54,190.29 584.64,192.41 583.80,194.52 582.67,196.64 583.42,198.75 582.93,200.87 580.55,202.99 580.98,205.10 581.62,207.22 580.30,209.34 579.72,211.45 579.40,213.57 588.16,213.57 588.15,211.45 588.10,209.34 588.73,207.22 589.63,205.10 588.65,202.99 589.85,200.87 589.72,198.75 590.21,196.64 590.70,194.52 591.25,192.41 591.72,190.29 592.05,188.17 592.79,186.06 592.58,183.94 592.62,181.83 593.44,179.71 593.26,177.59 594.04,175.48 594.46,173.36 595.44,171.24 594.97,169.13 595.29,167.01 595.27,164.90" fill="#ea9a00" />
<polygon points="638.16,164.90 638.06,168.07 639.32,171.24 638.70,174.42 638.29,177.59 639.40,180.77 639.09,183.94 640.42,187.12 641.30,190.29 641.43,193.46 640.78,196.64 641.40,199.81 642.98,202.99 642.52,206.16 642.64,209.34 643.44,212.51 644.27,215.68 643.76,218.86 643.24,222.03 643.42,225.21 643.61,228.38 643.06,231.56 642.91,234.73 643.53,237.90 657.31,237.90 655.47,234.73 654.68,231.56 655.01,228.38 654.38,225.21 654.47,222.03 653.78,218.86 653.12,215.68 652.27,212.51 652.14,209.34 651.72,206.16 650.32,202.99 649.27,199.81 648.95,196.64 648.39,193.46 648.43,190.29 647.39,187.12 646.36,183.94 645.66,180.77 644.57,177.59 645.43,174.42 643.58,171.24 642.78,168.07 641.61,164.90" fill="#ea9a00" />
<polygon points="646.00,239.60 646.00,200.00 648.50,200.00 651.40,205.40 653.50,206.80 655.20,207.20 657.00,208.60 659.00,210.00 661.00,210.50 661.00,239.60" fill="#ea9a00" />
</g>
<text id="by0" x="398.72" y="54.29" font-size="16.60" fill="#404040" text-anchor="end" textLength="12.87" lengthAdjust="spacingAndGlyphs" >0</text>
<text id="by5" x="399.38" y="84.87" font-size="16.60" fill="#404040" text-anchor="end" textLength="26.09" lengthAdjust="spacingAndGlyphs" >−5</text>
<text id="by10" x="398.95" y="115.24" font-size="16.60" fill="#404040" text-anchor="end" textLength="36.77" lengthAdjust="spacingAndGlyphs" >−10</text>
<text id="by15" x="398.94" y="145.61" font-size="16.60" fill="#404040" text-anchor="end" textLength="36.82" lengthAdjust="spacingAndGlyphs" >−15</text>
<text id="by20" x="398.68" y="176.21" font-size="16.60" fill="#404040" text-anchor="end" textLength="37.01" lengthAdjust="spacingAndGlyphs" >−20</text>
<text id="by25" x="398.58" y="206.60" font-size="16.60" fill="#404040" text-anchor="end" textLength="36.81" lengthAdjust="spacingAndGlyphs" >−25</text>
<text id="by30" x="398.21" y="236.50" font-size="16.60" fill="#404040" text-anchor="end" textLength="36.08" lengthAdjust="spacingAndGlyphs" >−30</text>
<text id="bx1530" x="419.80" y="256.20" font-size="16.60" fill="#404040" text-anchor="middle" textLength="44.02" lengthAdjust="spacingAndGlyphs" >1530</text>
<text id="bx1540" x="476.27" y="256.20" font-size="16.60" fill="#404040" text-anchor="middle" textLength="44.37" lengthAdjust="spacingAndGlyphs" >1540</text>
<text id="bx1550" x="532.18" y="256.20" font-size="16.60" fill="#404040" text-anchor="middle" textLength="43.74" lengthAdjust="spacingAndGlyphs" >1550</text>
<text id="bx1560" x="588.47" y="256.20" font-size="16.60" fill="#404040" text-anchor="middle" textLength="43.58" lengthAdjust="spacingAndGlyphs" >1560</text>
<text id="bx1570" x="644.24" y="256.20" font-size="16.60" fill="#404040" text-anchor="middle" textLength="42.82" lengthAdjust="spacingAndGlyphs" >1570</text>
<text id="bxl" x="449.38" y="280.62" font-size="18.80" fill="#404040" textLength="168.25" lengthAdjust="spacingAndGlyphs" >Wavelength (nm)</text>
<text id="byl" x="353.22" y="229.73" font-size="18.80" fill="#404040" textLength="179.52" lengthAdjust="spacingAndGlyphs" transform="rotate(-90 353.22 229.73)" ><tspan font-family="DejaVu Sans Mono, monospace">I</tspan>ntensity (a.u. dB)</text>
<rect x="753.2" y="45.0" width="259.20" height="191.60" fill="#e5e5e5"/>
<line x1="818.10" y1="45.0" x2="818.10" y2="236.6" stroke="#fff" stroke-width="1.5"/>
<line x1="882.80" y1="45.0" x2="882.80" y2="236.6" stroke="#fff" stroke-width="1.5"/>
<line x1="947.50" y1="45.0" x2="947.50" y2="236.6" stroke="#fff" stroke-width="1.5"/>
<line x1="753.2" y1="227.30" x2="1012.4" y2="227.30" stroke="#fff" stroke-width="1.5"/>
<line x1="753.2" y1="183.80" x2="1012.4" y2="183.80" stroke="#fff" stroke-width="1.5"/>
<line x1="753.2" y1="140.30" x2="1012.4" y2="140.30" stroke="#fff" stroke-width="1.5"/>
<line x1="753.2" y1="96.80" x2="1012.4" y2="96.80" stroke="#fff" stroke-width="1.5"/>
<line x1="753.2" y1="53.30" x2="1012.4" y2="53.30" stroke="#fff" stroke-width="1.5"/>
<line x1="752.6" y1="44.9" x2="1013.0" y2="44.9" stroke="#a8a8a8" stroke-width="1.3"/>
<line x1="1012.4" y1="44.9" x2="1012.4" y2="236.6" stroke="#a8a8a8" stroke-width="1.3"/>
<line x1="753.2" y1="44.9" x2="753.2" y2="236.6" stroke="#a8a8a8" stroke-width="1.3"/>
<line x1="752.6" y1="236.6" x2="1013.0" y2="236.6" stroke="#a8a8a8" stroke-width="1.3"/>
<line x1="753.2" y1="227.30" x2="757.7" y2="227.30" stroke="#707070" stroke-width="1.2"/>
<line x1="1007.9" y1="227.30" x2="1012.4" y2="227.30" stroke="#707070" stroke-width="1.2"/>
<line x1="753.2" y1="183.80" x2="757.7" y2="183.80" stroke="#707070" stroke-width="1.2"/>
<line x1="1007.9" y1="183.80" x2="1012.4" y2="183.80" stroke="#707070" stroke-width="1.2"/>
<line x1="753.2" y1="140.30" x2="757.7" y2="140.30" stroke="#707070" stroke-width="1.2"/>
<line x1="1007.9" y1="140.30" x2="1012.4" y2="140.30" stroke="#707070" stroke-width="1.2"/>
<line x1="753.2" y1="96.80" x2="757.7" y2="96.80" stroke="#707070" stroke-width="1.2"/>
<line x1="1007.9" y1="96.80" x2="1012.4" y2="96.80" stroke="#707070" stroke-width="1.2"/>
<line x1="753.2" y1="53.30" x2="757.7" y2="53.30" stroke="#707070" stroke-width="1.2"/>
<line x1="1007.9" y1="53.30" x2="1012.4" y2="53.30" stroke="#707070" stroke-width="1.2"/>
<line x1="818.10" y1="44.9" x2="818.10" y2="48.6" stroke="#707070" stroke-width="1.2"/>
<line x1="818.10" y1="232.6" x2="818.10" y2="236.6" stroke="#707070" stroke-width="1.2"/>
<line x1="882.80" y1="44.9" x2="882.80" y2="48.6" stroke="#707070" stroke-width="1.2"/>
<line x1="882.80" y1="232.6" x2="882.80" y2="236.6" stroke="#707070" stroke-width="1.2"/>
<line x1="947.50" y1="44.9" x2="947.50" y2="48.6" stroke="#707070" stroke-width="1.2"/>
<line x1="947.50" y1="232.6" x2="947.50" y2="236.6" stroke="#707070" stroke-width="1.2"/>
<g clip-path="url(#clipc)">
<g fill="none" stroke="#3478bf" stroke-width="1.5"><circle cx="745.33" cy="230.71" r="3.6"/><circle cx="745.94" cy="224.90" r="3.6"/><circle cx="746.62" cy="230.13" r="3.6"/><circle cx="747.24" cy="225.58" r="3.6"/><circle cx="747.92" cy="229.82" r="3.6"/><circle cx="748.53" cy="225.70" r="3.6"/><circle cx="749.21" cy="229.26" r="3.6"/><circle cx="749.82" cy="225.68" r="3.6"/><circle cx="750.51" cy="229.65" r="3.6"/><circle cx="751.13" cy="226.91" r="3.6"/><circle cx="751.80" cy="230.02" r="3.6"/><circle cx="752.41" cy="225.61" r="3.6"/><circle cx="753.10" cy="229.83" r="3.6"/><circle cx="753.70" cy="225.49" r="3.6"/><circle cx="754.39" cy="229.54" r="3.6"/><circle cx="754.99" cy="225.57" r="3.6"/><circle cx="755.69" cy="230.07" r="3.6"/><circle cx="756.28" cy="225.61" r="3.6"/><circle cx="756.99" cy="230.21" r="3.6"/><circle cx="757.57" cy="225.60" r="3.6"/><circle cx="758.28" cy="229.87" r="3.6"/><circle cx="758.87" cy="226.19" r="3.6"/><circle cx="759.58" cy="230.03" r="3.6"/><circle cx="760.15" cy="225.45" r="3.6"/><circle cx="760.88" cy="229.75" r="3.6"/><circle cx="761.45" cy="225.80" r="3.6"/><circle cx="762.19" cy="230.47" r="3.6"/><circle cx="762.74" cy="225.49" r="3.6"/><circle cx="763.47" cy="229.68" r="3.6"/><circle cx="764.04" cy="225.90" r="3.6"/><circle cx="764.76" cy="229.43" r="3.6"/><circle cx="765.32" cy="225.42" r="3.6"/><circle cx="766.08" cy="230.02" r="3.6"/><circle cx="766.61" cy="225.69" r="3.6"/><circle cx="767.37" cy="229.70" r="3.6"/><circle cx="767.90" cy="225.69" r="3.6"/><circle cx="768.64" cy="228.65" r="3.6"/><circle cx="769.20" cy="225.78" r="3.6"/><circle cx="769.96" cy="229.26" r="3.6"/><circle cx="770.46" cy="224.79" r="3.6"/><circle cx="771.27" cy="229.65" r="3.6"/><circle cx="771.77" cy="225.58" r="3.6"/><circle cx="772.56" cy="229.35" r="3.6"/><circle cx="773.04" cy="224.91" r="3.6"/><circle cx="773.87" cy="229.46" r="3.6"/><circle cx="774.34" cy="225.21" r="3.6"/><circle cx="775.19" cy="229.89" r="3.6"/><circle cx="775.64" cy="225.43" r="3.6"/><circle cx="776.47" cy="229.40" r="3.6"/><circle cx="776.93" cy="225.50" r="3.6"/><circle cx="777.77" cy="229.20" r="3.6"/><circle cx="778.18" cy="224.72" r="3.6"/><circle cx="779.09" cy="229.40" r="3.6"/><circle cx="779.49" cy="225.17" r="3.6"/><circle cx="780.38" cy="229.04" r="3.6"/><circle cx="780.74" cy="224.61" r="3.6"/><circle cx="781.69" cy="229.11" r="3.6"/><circle cx="781.98" cy="223.93" r="3.6"/><circle cx="783.01" cy="229.18" r="3.6"/><circle cx="783.34" cy="224.88" r="3.6"/><circle cx="784.25" cy="228.27" r="3.6"/><circle cx="784.61" cy="224.62" r="3.6"/><circle cx="785.58" cy="228.40" r="3.6"/><circle cx="785.91" cy="224.76" r="3.6"/><circle cx="786.85" cy="227.91" r="3.6"/><circle cx="787.13" cy="224.05" r="3.6"/><circle cx="788.25" cy="228.73" r="3.6"/><circle cx="788.48" cy="224.64" r="3.6"/><circle cx="789.46" cy="227.60" r="3.6"/><circle cx="789.69" cy="223.93" r="3.6"/><circle cx="790.87" cy="228.31" r="3.6"/><circle cx="790.96" cy="223.74" r="3.6"/><circle cx="792.24" cy="228.58" r="3.6"/><circle cx="792.20" cy="223.37" r="3.6"/><circle cx="793.50" cy="227.97" r="3.6"/><circle cx="793.48" cy="223.24" r="3.6"/><circle cx="794.88" cy="228.14" r="3.6"/><circle cx="794.80" cy="223.40" r="3.6"/><circle cx="796.10" cy="227.32" r="3.6"/><circle cx="795.96" cy="222.60" r="3.6"/><circle cx="797.55" cy="227.79" r="3.6"/><circle cx="797.38" cy="223.22" r="3.6"/><circle cx="798.82" cy="227.22" r="3.6"/><circle cx="798.67" cy="223.11" r="3.6"/><circle cx="800.12" cy="226.81" r="3.6"/><circle cx="799.80" cy="222.23" r="3.6"/><circle cx="801.36" cy="226.12" r="3.6"/><circle cx="801.04" cy="221.88" r="3.6"/><circle cx="802.88" cy="226.54" r="3.6"/><circle cx="802.24" cy="221.35" r="3.6"/><circle cx="804.04" cy="225.52" r="3.6"/><circle cx="803.59" cy="221.39" r="3.6"/><circle cx="805.45" cy="225.42" r="3.6"/><circle cx="804.93" cy="221.32" r="3.6"/><circle cx="806.64" cy="224.52" r="3.6"/><circle cx="805.92" cy="220.16" r="3.6"/><circle cx="808.11" cy="224.49" r="3.6"/><circle cx="807.50" cy="220.70" r="3.6"/><circle cx="809.55" cy="224.25" r="3.6"/><circle cx="808.63" cy="219.90" r="3.6"/><circle cx="810.76" cy="223.37" r="3.6"/><circle cx="809.88" cy="219.42" r="3.6"/><circle cx="812.12" cy="222.83" r="3.6"/><circle cx="811.20" cy="219.05" r="3.6"/><circle cx="813.38" cy="222.04" r="3.6"/><circle cx="812.34" cy="218.24" r="3.6"/><circle cx="814.84" cy="221.58" r="3.6"/><circle cx="813.64" cy="217.73" r="3.6"/><circle cx="816.25" cy="220.96" r="3.6"/><circle cx="815.23" cy="217.64" r="3.6"/><circle cx="817.84" cy="220.55" r="3.6"/><circle cx="816.29" cy="216.57" r="3.6"/><circle cx="818.53" cy="218.65" r="3.6"/><circle cx="817.18" cy="215.22" r="3.6"/><circle cx="820.16" cy="218.16" r="3.6"/><circle cx="818.59" cy="214.60" r="3.6"/><circle cx="821.15" cy="216.70" r="3.6"/><circle cx="819.96" cy="213.84" r="3.6"/><circle cx="823.23" cy="216.55" r="3.6"/><circle cx="820.65" cy="212.15" r="3.6"/><circle cx="824.12" cy="214.85" r="3.6"/><circle cx="821.99" cy="211.20" r="3.6"/><circle cx="825.71" cy="213.87" r="3.6"/><circle cx="823.57" cy="210.38" r="3.6"/><circle cx="827.56" cy="213.01" r="3.6"/><circle cx="824.60" cy="208.89" r="3.6"/><circle cx="828.60" cy="211.25" r="3.6"/><circle cx="825.94" cy="207.60" r="3.6"/><circle cx="830.21" cy="209.92" r="3.6"/><circle cx="827.34" cy="206.23" r="3.6"/><circle cx="831.46" cy="208.16" r="3.6"/><circle cx="828.09" cy="204.24" r="3.6"/><circle cx="832.36" cy="206.04" r="3.6"/><circle cx="829.41" cy="202.57" r="3.6"/><circle cx="834.19" cy="204.46" r="3.6"/><circle cx="831.09" cy="201.00" r="3.6"/><circle cx="834.99" cy="202.07" r="3.6"/><circle cx="832.02" cy="198.79" r="3.6"/><circle cx="836.56" cy="200.03" r="3.6"/><circle cx="833.21" cy="196.60" r="3.6"/><circle cx="837.45" cy="197.45" r="3.6"/><circle cx="834.83" cy="194.49" r="3.6"/><circle cx="839.82" cy="195.51" r="3.6"/><circle cx="835.88" cy="191.90" r="3.6"/><circle cx="840.20" cy="192.38" r="3.6"/><circle cx="836.85" cy="189.13" r="3.6"/><circle cx="841.26" cy="189.45" r="3.6"/><circle cx="838.67" cy="186.56" r="3.6"/><circle cx="843.28" cy="186.77" r="3.6"/><circle cx="839.78" cy="183.48" r="3.6"/><circle cx="844.42" cy="183.51" r="3.6"/><circle cx="841.09" cy="180.30" r="3.6"/><circle cx="845.67" cy="180.12" r="3.6"/><circle cx="841.83" cy="176.72" r="3.6"/><circle cx="846.78" cy="176.49" r="3.6"/><circle cx="843.65" cy="173.33" r="3.6"/><circle cx="847.97" cy="172.70" r="3.6"/><circle cx="844.74" cy="169.47" r="3.6"/><circle cx="849.26" cy="168.75" r="3.6"/><circle cx="846.07" cy="165.50" r="3.6"/><circle cx="851.13" cy="164.78" r="3.6"/><circle cx="847.33" cy="161.30" r="3.6"/><circle cx="852.09" cy="160.34" r="3.6"/><circle cx="849.03" cy="157.03" r="3.6"/><circle cx="853.66" cy="155.88" r="3.6"/><circle cx="850.61" cy="152.52" r="3.6"/><circle cx="854.04" cy="150.91" r="3.6"/><circle cx="851.62" cy="147.67" r="3.6"/><circle cx="855.88" cy="146.16" r="3.6"/><circle cx="852.67" cy="142.66" r="3.6"/><circle cx="857.62" cy="141.22" r="3.6"/><circle cx="854.28" cy="137.64" r="3.6"/><circle cx="858.99" cy="136.03" r="3.6"/><circle cx="855.26" cy="132.31" r="3.6"/><circle cx="860.48" cy="130.74" r="3.6"/><circle cx="856.40" cy="126.91" r="3.6"/><circle cx="861.18" cy="125.16" r="3.6"/><circle cx="858.06" cy="121.53" r="3.6"/><circle cx="862.34" cy="119.62" r="3.6"/><circle cx="859.82" cy="116.11" r="3.6"/><circle cx="864.17" cy="114.18" r="3.6"/><circle cx="861.12" cy="110.54" r="3.6"/><circle cx="865.10" cy="108.53" r="3.6"/><circle cx="861.54" cy="104.77" r="3.6"/><circle cx="866.46" cy="103.01" r="3.6"/><circle cx="863.21" cy="99.34" r="3.6"/><circle cx="867.50" cy="97.48" r="3.6"/><circle cx="864.39" cy="93.88" r="3.6"/><circle cx="868.98" cy="92.17" r="3.6"/><circle cx="866.11" cy="88.68" r="3.6"/><circle cx="870.05" cy="86.93" r="3.6"/><circle cx="867.21" cy="83.51" r="3.6"/><circle cx="871.35" cy="81.96" r="3.6"/><circle cx="867.83" cy="78.44" r="3.6"/><circle cx="872.61" cy="77.25" r="3.6"/><circle cx="869.06" cy="73.79" r="3.6"/><circle cx="874.18" cy="72.95" r="3.6"/><circle cx="871.11" cy="69.72" r="3.6"/><circle cx="875.46" cy="68.95" r="3.6"/><circle cx="872.29" cy="65.76" r="3.6"/><circle cx="877.21" cy="65.56" r="3.6"/><circle cx="873.50" cy="62.20" r="3.6"/><circle cx="877.99" cy="62.28" r="3.6"/><circle cx="874.67" cy="59.05" r="3.6"/><circle cx="878.66" cy="59.43" r="3.6"/><circle cx="876.37" cy="56.61" r="3.6"/><circle cx="879.82" cy="57.37" r="3.6"/><circle cx="877.78" cy="54.48" r="3.6"/><circle cx="881.39" cy="56.37" r="3.6"/><circle cx="879.47" cy="52.99" r="3.6"/><circle cx="882.22" cy="55.67" r="3.6"/><circle cx="881.05" cy="51.31" r="3.6"/><circle cx="882.73" cy="55.63" r="3.6"/><circle cx="883.39" cy="51.14" r="3.6"/><circle cx="883.10" cy="55.49" r="3.6"/><circle cx="885.46" cy="52.06" r="3.6"/><circle cx="883.78" cy="55.91" r="3.6"/><circle cx="887.27" cy="53.40" r="3.6"/><circle cx="884.94" cy="56.78" r="3.6"/><circle cx="888.80" cy="55.31" r="3.6"/><circle cx="886.49" cy="58.24" r="3.6"/><circle cx="890.20" cy="57.70" r="3.6"/><circle cx="887.43" cy="60.72" r="3.6"/><circle cx="891.16" cy="60.73" r="3.6"/><circle cx="887.88" cy="63.91" r="3.6"/><circle cx="893.49" cy="63.63" r="3.6"/><circle cx="889.51" cy="67.10" r="3.6"/><circle cx="894.21" cy="67.58" r="3.6"/><circle cx="891.18" cy="70.77" r="3.6"/><circle cx="895.31" cy="71.77" r="3.6"/><circle cx="892.26" cy="75.04" r="3.6"/><circle cx="897.39" cy="76.01" r="3.6"/><circle cx="893.48" cy="79.61" r="3.6"/><circle cx="898.14" cy="80.93" r="3.6"/><circle cx="894.64" cy="84.48" r="3.6"/><circle cx="899.81" cy="85.85" r="3.6"/><circle cx="895.76" cy="89.61" r="3.6"/><circle cx="900.44" cy="91.24" r="3.6"/><circle cx="897.65" cy="94.74" r="3.6"/><circle cx="902.21" cy="96.50" r="3.6"/><circle cx="898.58" cy="100.24" r="3.6"/><circle cx="903.48" cy="101.99" r="3.6"/><circle cx="899.25" cy="105.90" r="3.6"/><circle cx="904.51" cy="107.60" r="3.6"/><circle cx="901.48" cy="111.24" r="3.6"/><circle cx="906.14" cy="113.09" r="3.6"/><circle cx="902.45" cy="116.88" r="3.6"/><circle cx="906.38" cy="118.89" r="3.6"/><circle cx="903.78" cy="122.41" r="3.6"/><circle cx="908.42" cy="124.22" r="3.6"/><circle cx="904.84" cy="127.95" r="3.6"/><circle cx="909.76" cy="129.63" r="3.6"/><circle cx="905.54" cy="133.48" r="3.6"/><circle cx="911.22" cy="134.90" r="3.6"/><circle cx="907.36" cy="138.63" r="3.6"/><circle cx="912.28" cy="140.13" r="3.6"/><circle cx="908.70" cy="143.75" r="3.6"/><circle cx="914.02" cy="145.04" r="3.6"/><circle cx="909.61" cy="148.83" r="3.6"/><circle cx="914.95" cy="149.99" r="3.6"/><circle cx="911.50" cy="153.48" r="3.6"/><circle cx="916.52" cy="154.59" r="3.6"/><circle cx="913.05" cy="158.04" r="3.6"/><circle cx="917.30" cy="159.23" r="3.6"/><circle cx="913.78" cy="162.65" r="3.6"/><circle cx="918.52" cy="163.54" r="3.6"/><circle cx="915.01" cy="166.92" r="3.6"/><circle cx="919.82" cy="167.63" r="3.6"/><circle cx="916.70" cy="170.84" r="3.6"/><circle cx="921.07" cy="171.54" r="3.6"/><circle cx="917.82" cy="174.76" r="3.6"/><circle cx="922.66" cy="175.12" r="3.6"/><circle cx="919.09" cy="178.44" r="3.6"/><circle cx="923.49" cy="178.78" r="3.6"/><circle cx="920.56" cy="181.84" r="3.6"/><circle cx="925.30" cy="181.86" r="3.6"/><circle cx="921.71" cy="185.18" r="3.6"/><circle cx="925.85" cy="185.27" r="3.6"/><circle cx="923.32" cy="188.14" r="3.6"/><circle cx="927.77" cy="187.90" r="3.6"/><circle cx="924.61" cy="191.06" r="3.6"/><circle cx="928.63" cy="190.83" r="3.6"/><circle cx="926.46" cy="193.53" r="3.6"/><circle cx="930.17" cy="193.26" r="3.6"/><circle cx="926.84" cy="196.58" r="3.6"/><circle cx="931.80" cy="195.45" r="3.6"/><circle cx="928.07" cy="199.05" r="3.6"/><circle cx="932.65" cy="197.91" r="3.6"/><circle cx="930.02" cy="200.95" r="3.6"/><circle cx="934.01" cy="199.93" r="3.6"/><circle cx="931.63" cy="202.87" r="3.6"/><circle cx="935.49" cy="201.71" r="3.6"/><circle cx="931.99" cy="205.51" r="3.6"/><circle cx="936.84" cy="203.43" r="3.6"/><circle cx="933.33" cy="207.37" r="3.6"/><circle cx="937.86" cy="205.27" r="3.6"/><circle cx="934.92" cy="208.93" r="3.6"/><circle cx="939.07" cy="206.84" r="3.6"/><circle cx="937.12" cy="209.80" r="3.6"/><circle cx="940.48" cy="208.13" r="3.6"/><circle cx="937.83" cy="211.85" r="3.6"/><circle cx="941.86" cy="209.31" r="3.6"/><circle cx="939.56" cy="212.86" r="3.6"/><circle cx="942.72" cy="210.92" r="3.6"/><circle cx="940.73" cy="214.33" r="3.6"/><circle cx="944.44" cy="211.52" r="3.6"/><circle cx="942.09" cy="215.51" r="3.6"/><circle cx="945.08" cy="213.25" r="3.6"/><circle cx="943.39" cy="216.68" r="3.6"/><circle cx="946.31" cy="214.25" r="3.6"/><circle cx="944.32" cy="218.27" r="3.6"/><circle cx="947.73" cy="214.91" r="3.6"/><circle cx="946.22" cy="218.47" r="3.6"/><circle cx="949.22" cy="215.35" r="3.6"/><circle cx="947.36" cy="219.68" r="3.6"/><circle cx="950.04" cy="216.77" r="3.6"/><circle cx="948.66" cy="220.58" r="3.6"/><circle cx="951.34" cy="217.39" r="3.6"/><circle cx="950.14" cy="221.12" r="3.6"/><circle cx="952.62" cy="217.98" r="3.6"/><circle cx="951.49" cy="221.81" r="3.6"/><circle cx="953.95" cy="218.39" r="3.6"/><circle cx="952.96" cy="222.19" r="3.6"/><circle cx="955.36" cy="218.56" r="3.6"/><circle cx="954.19" cy="223.04" r="3.6"/><circle cx="956.52" cy="219.23" r="3.6"/><circle cx="955.59" cy="223.43" r="3.6"/><circle cx="957.54" cy="220.29" r="3.6"/><circle cx="956.83" cy="224.22" r="3.6"/><circle cx="958.53" cy="221.48" r="3.6"/><circle cx="958.06" cy="225.02" r="3.6"/><circle cx="960.18" cy="220.72" r="3.6"/><circle cx="959.42" cy="225.41" r="3.6"/><circle cx="961.32" cy="221.44" r="3.6"/><circle cx="960.90" cy="225.31" r="3.6"/><circle cx="962.51" cy="222.05" r="3.6"/><circle cx="962.24" cy="225.64" r="3.6"/><circle cx="964.12" cy="220.96" r="3.6"/><circle cx="963.44" cy="226.51" r="3.6"/><circle cx="965.17" cy="222.09" r="3.6"/><circle cx="964.72" cy="227.05" r="3.6"/><circle cx="966.43" cy="222.36" r="3.6"/><circle cx="966.25" cy="226.43" r="3.6"/><circle cx="967.53" cy="223.37" r="3.6"/><circle cx="967.56" cy="226.72" r="3.6"/><circle cx="968.89" cy="223.15" r="3.6"/><circle cx="968.73" cy="227.83" r="3.6"/><circle cx="970.16" cy="223.34" r="3.6"/><circle cx="970.14" cy="227.52" r="3.6"/><circle cx="971.43" cy="223.54" r="3.6"/><circle cx="971.41" cy="228.05" r="3.6"/><circle cx="972.74" cy="223.41" r="3.6"/><circle cx="972.74" cy="228.15" r="3.6"/><circle cx="973.95" cy="224.07" r="3.6"/><circle cx="973.99" cy="228.92" r="3.6"/><circle cx="975.26" cy="223.91" r="3.6"/><circle cx="975.44" cy="227.95" r="3.6"/><circle cx="976.49" cy="224.43" r="3.6"/><circle cx="976.73" cy="228.28" r="3.6"/><circle cx="977.79" cy="224.41" r="3.6"/><circle cx="978.02" cy="228.60" r="3.6"/><circle cx="979.04" cy="224.84" r="3.6"/><circle cx="979.36" cy="228.45" r="3.6"/><circle cx="980.36" cy="224.52" r="3.6"/><circle cx="980.72" cy="227.90" r="3.6"/><circle cx="981.66" cy="224.35" r="3.6"/><circle cx="981.91" cy="229.43" r="3.6"/><circle cx="982.93" cy="224.52" r="3.6"/><circle cx="983.28" cy="228.74" r="3.6"/><circle cx="984.23" cy="224.42" r="3.6"/><circle cx="984.55" cy="229.28" r="3.6"/><circle cx="985.48" cy="224.99" r="3.6"/><circle cx="985.90" cy="228.74" r="3.6"/><circle cx="986.75" cy="225.24" r="3.6"/><circle cx="987.17" cy="229.33" r="3.6"/><circle cx="988.03" cy="225.34" r="3.6"/><circle cx="988.49" cy="229.08" r="3.6"/><circle cx="989.30" cy="225.75" r="3.6"/><circle cx="989.77" cy="229.51" r="3.6"/><circle cx="990.62" cy="225.16" r="3.6"/><circle cx="991.09" cy="229.24" r="3.6"/><circle cx="991.91" cy="225.17" r="3.6"/><circle cx="992.37" cy="229.78" r="3.6"/><circle cx="993.20" cy="225.21" r="3.6"/><circle cx="993.67" cy="229.91" r="3.6"/><circle cx="994.47" cy="225.56" r="3.6"/><circle cx="994.97" cy="230.04" r="3.6"/><circle cx="995.76" cy="225.68" r="3.6"/><circle cx="996.28" cy="229.59" r="3.6"/><circle cx="997.08" cy="224.77" r="3.6"/><circle cx="997.58" cy="229.76" r="3.6"/><circle cx="998.34" cy="225.75" r="3.6"/><circle cx="998.88" cy="229.75" r="3.6"/><circle cx="999.63" cy="225.70" r="3.6"/><circle cx="1000.18" cy="229.56" r="3.6"/><circle cx="1000.93" cy="225.41" r="3.6"/><circle cx="1001.49" cy="229.42" r="3.6"/><circle cx="1002.21" cy="226.04" r="3.6"/><circle cx="1002.77" cy="229.84" r="3.6"/><circle cx="1003.51" cy="225.42" r="3.6"/><circle cx="1004.08" cy="229.34" r="3.6"/><circle cx="1004.80" cy="225.56" r="3.6"/><circle cx="1005.36" cy="230.33" r="3.6"/><circle cx="1006.09" cy="225.80" r="3.6"/><circle cx="1006.67" cy="229.60" r="3.6"/><circle cx="1007.37" cy="226.16" r="3.6"/><circle cx="1007.96" cy="230.37" r="3.6"/><circle cx="1008.67" cy="226.02" r="3.6"/><circle cx="1009.26" cy="230.16" r="3.6"/><circle cx="1009.96" cy="226.10" r="3.6"/><circle cx="1010.55" cy="230.10" r="3.6"/><circle cx="1011.25" cy="225.98" r="3.6"/><circle cx="1011.86" cy="229.65" r="3.6"/><circle cx="1012.54" cy="226.25" r="3.6"/><circle cx="1013.15" cy="230.02" r="3.6"/><circle cx="1013.83" cy="226.45" r="3.6"/><circle cx="1014.45" cy="229.23" r="3.6"/><circle cx="1015.13" cy="226.00" r="3.6"/><circle cx="1015.74" cy="230.30" r="3.6"/><circle cx="1016.42" cy="225.65" r="3.6"/><circle cx="1017.03" cy="230.13" r="3.6"/><circle cx="1017.71" cy="226.04" r="3.6"/><circle cx="1018.33" cy="230.18" r="3.6"/><circle cx="1019.01" cy="225.60" r="3.6"/><circle cx="1019.63" cy="229.94" r="3.6"/><circle cx="1020.30" cy="226.15" r="3.6"/></g>
<polyline points="746.93,227.88 747.61,227.88 748.29,227.87 748.97,227.87 749.65,227.86 750.34,227.86 751.02,227.85 751.70,227.84 752.38,227.84 753.06,227.83 753.74,227.82 754.42,227.81 755.10,227.80 755.78,227.80 756.46,227.79 757.15,227.78 757.83,227.77 758.51,227.76 759.19,227.75 759.87,227.73 760.55,227.72 761.23,227.71 761.91,227.70 762.59,227.68 763.28,227.67 763.96,227.66 764.64,227.64 765.32,227.62 766.00,227.61 766.68,227.59 767.36,227.57 768.04,227.55 768.72,227.53 769.40,227.51 770.09,227.49 770.77,227.47 771.45,227.44 772.13,227.42 772.81,227.39 773.49,227.37 774.17,227.34 774.85,227.31 775.53,227.28 776.22,227.25 776.90,227.21 777.58,227.18 778.26,227.14 778.94,227.10 779.62,227.06 780.30,227.02 780.98,226.98 781.66,226.93 782.34,226.88 783.03,226.83 783.71,226.78 784.39,226.73 785.07,226.67 785.75,226.61 786.43,226.55 787.11,226.49 787.79,226.42 788.47,226.35 789.16,226.28 789.84,226.20 790.52,226.12 791.20,226.04 791.88,225.95 792.56,225.86 793.24,225.76 793.92,225.66 794.60,225.56 795.28,225.45 795.97,225.34 796.65,225.22 797.33,225.10 798.01,224.97 798.69,224.84 799.37,224.70 800.05,224.55 800.73,224.40 801.41,224.24 802.10,224.08 802.78,223.90 803.46,223.72 804.14,223.53 804.82,223.34 805.50,223.13 806.18,222.92 806.86,222.70 807.54,222.46 808.22,222.22 808.91,221.97 809.59,221.70 810.27,221.43 810.95,221.14 811.63,220.84 812.31,220.53 812.99,220.20 813.67,219.86 814.35,219.51 815.04,219.14 815.72,218.76 816.40,218.36 817.08,217.94 817.76,217.50 818.44,217.05 819.12,216.58 819.80,216.09 820.48,215.57 821.16,215.04 821.85,214.48 822.53,213.91 823.21,213.31 823.89,212.68 824.57,212.03 825.25,211.35 825.93,210.65 826.61,209.91 827.29,209.15 827.98,208.36 828.66,207.54 829.34,206.68 830.02,205.79 830.70,204.87 831.38,203.91 832.06,202.92 832.74,201.89 833.42,200.82 834.10,199.71 834.79,198.56 835.47,197.36 836.15,196.13 836.83,194.85 837.51,193.52 838.19,192.15 838.87,190.73 839.55,189.27 840.23,187.75 840.92,186.19 841.60,184.57 842.28,182.90 842.96,181.18 843.64,179.41 844.32,177.58 845.00,175.70 845.68,173.76 846.36,171.77 847.04,169.72 847.73,167.61 848.41,165.46 849.09,163.24 849.77,160.97 850.45,158.65 851.13,156.28 851.81,153.85 852.49,151.37 853.17,148.84 853.86,146.26 854.54,143.64 855.22,140.97 855.90,138.26 856.58,135.51 857.26,132.73 857.94,129.91 858.62,127.06 859.30,124.19 859.98,121.29 860.67,118.38 861.35,115.46 862.03,112.53 862.71,109.60 863.39,106.67 864.07,103.75 864.75,100.85 865.43,97.97 866.11,95.12 866.80,92.30 867.48,89.53 868.16,86.81 868.84,84.14 869.52,81.54 870.20,79.02 870.88,76.57 871.56,74.20 872.24,71.94 872.92,69.77 873.61,67.71 874.29,65.77 874.97,63.94 875.65,62.25 876.33,60.69 877.01,59.27 877.69,57.99 878.37,56.86 879.05,55.89 879.74,55.07 880.42,54.41 881.10,53.92 881.78,53.59 882.46,53.42 883.14,53.42 883.82,53.59 884.50,53.92 885.18,54.41 885.86,55.07 886.55,55.89 887.23,56.86 887.91,57.99 888.59,59.27 889.27,60.69 889.95,62.25 890.63,63.94 891.31,65.77 891.99,67.71 892.68,69.77 893.36,71.94 894.04,74.20 894.72,76.57 895.40,79.02 896.08,81.54 896.76,84.14 897.44,86.81 898.12,89.53 898.80,92.30 899.49,95.12 900.17,97.97 900.85,100.85 901.53,103.75 902.21,106.67 902.89,109.60 903.57,112.53 904.25,115.46 904.93,118.38 905.62,121.29 906.30,124.19 906.98,127.06 907.66,129.91 908.34,132.73 909.02,135.51 909.70,138.26 910.38,140.97 911.06,143.64 911.74,146.26 912.43,148.84 913.11,151.37 913.79,153.85 914.47,156.28 915.15,158.65 915.83,160.97 916.51,163.24 917.19,165.46 917.87,167.61 918.56,169.72 919.24,171.77 919.92,173.76 920.60,175.70 921.28,177.58 921.96,179.41 922.64,181.18 923.32,182.90 924.00,184.57 924.68,186.19 925.37,187.75 926.05,189.27 926.73,190.73 927.41,192.15 928.09,193.52 928.77,194.85 929.45,196.13 930.13,197.36 930.81,198.56 931.50,199.71 932.18,200.82 932.86,201.89 933.54,202.92 934.22,203.91 934.90,204.87 935.58,205.79 936.26,206.68 936.94,207.54 937.62,208.36 938.31,209.15 938.99,209.91 939.67,210.65 940.35,211.35 941.03,212.03 941.71,212.68 942.39,213.31 943.07,213.91 943.75,214.48 944.44,215.04 945.12,215.57 945.80,216.09 946.48,216.58 947.16,217.05 947.84,217.50 948.52,217.94 949.20,218.36 949.88,218.76 950.56,219.14 951.25,219.51 951.93,219.86 952.61,220.20 953.29,220.53 953.97,220.84 954.65,221.14 955.33,221.43 956.01,221.70 956.69,221.97 957.38,222.22 958.06,222.46 958.74,222.70 959.42,222.92 960.10,223.13 960.78,223.34 961.46,223.53 962.14,223.72 962.82,223.90 963.50,224.08 964.19,224.24 964.87,224.40 965.55,224.55 966.23,224.70 966.91,224.84 967.59,224.97 968.27,225.10 968.95,225.22 969.63,225.34 970.32,225.45 971.00,225.56 971.68,225.66 972.36,225.76 973.04,225.86 973.72,225.95 974.40,226.04 975.08,226.12 975.76,226.20 976.44,226.28 977.13,226.35 977.81,226.42 978.49,226.49 979.17,226.55 979.85,226.61 980.53,226.67 981.21,226.73 981.89,226.78 982.57,226.83 983.26,226.88 983.94,226.93 984.62,226.98 985.30,227.02 985.98,227.06 986.66,227.10 987.34,227.14 988.02,227.18 988.70,227.21 989.38,227.25 990.07,227.28 990.75,227.31 991.43,227.34 992.11,227.37 992.79,227.39 993.47,227.42 994.15,227.44 994.83,227.47 995.51,227.49 996.20,227.51 996.88,227.53 997.56,227.55 998.24,227.57 998.92,227.59 999.60,227.61 1000.28,227.62 1000.96,227.64 1001.64,227.66 1002.32,227.67 1003.01,227.68 1003.69,227.70 1004.37,227.71 1005.05,227.72 1005.73,227.73 1006.41,227.75 1007.09,227.76 1007.77,227.77 1008.45,227.78 1009.14,227.79 1009.82,227.80 1010.50,227.80 1011.18,227.81 1011.86,227.82 1012.54,227.83 1013.22,227.84 1013.90,227.84 1014.58,227.85 1015.26,227.86 1015.95,227.86 1016.63,227.87 1017.31,227.87 1017.99,227.88 1018.67,227.88" fill="none" stroke="#e8141c" stroke-width="3.6" stroke-linejoin="round" stroke-linecap="round" />
</g>
<line x1="819.8" y1="140.0" x2="840" y2="140.0" stroke="#000" stroke-width="2.2"/>
<polygon points="848.3,140 838.6,136.6 838.6,143.4" fill="#000"/>
<line x1="926" y1="139.8" x2="947.0" y2="139.8" stroke="#000" stroke-width="2.2"/>
<polygon points="918.4,139.8 928.1,136.4 928.1,143.2" fill="#000"/>
<text id="c1" x="751.85" y="57.90" font-size="16.60" fill="#404040" text-anchor="end" textLength="11.42" lengthAdjust="spacingAndGlyphs" >1</text>
<text id="c0" x="749.87" y="233.15" font-size="16.60" fill="#404040" text-anchor="end" textLength="11.84" lengthAdjust="spacingAndGlyphs" >0</text>
<text id="cx-4" x="754.87" y="255.18" font-size="16.60" fill="#404040" text-anchor="middle" textLength="25.44" lengthAdjust="spacingAndGlyphs" >−4</text>
<text id="cx-2" x="819.90" y="255.76" font-size="16.60" fill="#404040" text-anchor="middle" textLength="26.45" lengthAdjust="spacingAndGlyphs" >−2</text>
<text id="cx0" x="884.33" y="255.93" font-size="16.60" fill="#404040" text-anchor="middle" textLength="12.68" lengthAdjust="spacingAndGlyphs" >0</text>
<text id="cx2" x="949.15" y="255.99" font-size="16.60" fill="#404040" text-anchor="middle" textLength="12.59" lengthAdjust="spacingAndGlyphs" >2</text>
<text id="cx4" x="1013.02" y="255.20" font-size="16.60" fill="#404040" text-anchor="middle" textLength="12.16" lengthAdjust="spacingAndGlyphs" >4</text>
<text id="cxl" x="833.27" y="280.92" font-size="18.60" fill="#404040" textLength="101.44" lengthAdjust="spacingAndGlyphs" >Delay (ps)</text>
<text id="cyl" x="728.12" y="214.08" font-size="18.40" fill="#404040" textLength="144.59" lengthAdjust="spacingAndGlyphs" transform="rotate(-90 728.12 214.08)" ><tspan font-family="DejaVu Sans Mono, monospace">I</tspan>ntensity (a.u.)</text>
<text id="sech" x="907.31" y="69.94" font-size="17.20" fill="#e3141c" textLength="49.17" lengthAdjust="spacingAndGlyphs" >Sech<tspan font-size="11.3" dy="-3.5">2</tspan></text>
<text id="fit" x="964.81" y="70.65" font-size="17.20" fill="#e3141c" textLength="21.98" lengthAdjust="spacingAndGlyphs" >Fit</text>
<text id="n155" x="950.67" y="134.70" font-size="16.40" fill="#111" textLength="55.05" lengthAdjust="spacingAndGlyphs" >1.55×</text>
<text id="n960" x="950.89" y="152.65" font-size="16.40" fill="#111" textLength="54.18" lengthAdjust="spacingAndGlyphs" >960 fs</text>
<text id="la" x="3.97" y="21.50" font-size="21.00" fill="#000" textLength="25.61" lengthAdjust="spacingAndGlyphs" font-family="'Liberation Sans', Arial, sans-serif">(<tspan font-weight="bold">a</tspan>)</text>
<text id="lb" x="364.37" y="21.20" font-size="21.00" fill="#000" textLength="26.67" lengthAdjust="spacingAndGlyphs" font-family="'Liberation Sans', Arial, sans-serif">(<tspan font-weight="bold">b</tspan>)</text>
<text id="lc" x="713.81" y="21.20" font-size="21.00" fill="#000" textLength="25.64" lengthAdjust="spacingAndGlyphs" font-family="'Liberation Sans', Arial, sans-serif">(<tspan font-weight="bold">c</tspan>)</text>
</svg></body></html>
